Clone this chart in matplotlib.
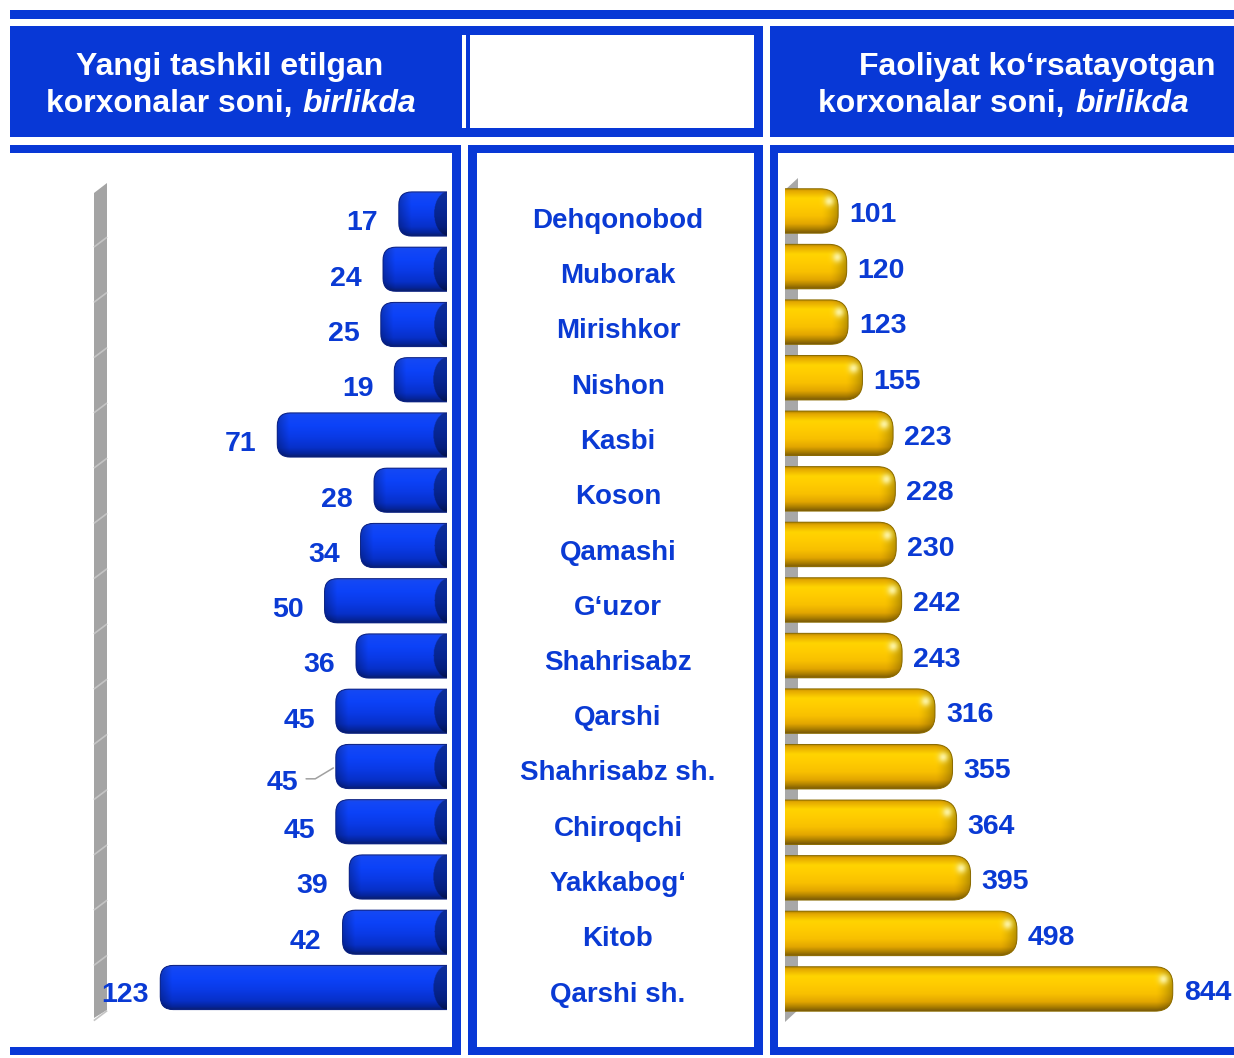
import numpy as np
import matplotlib
matplotlib.use('Agg')
import matplotlib.pyplot as plt
from matplotlib.patches import FancyBboxPatch, Polygon, Rectangle
from matplotlib.colors import to_rgb

plt.rcParams['font.family'] = ['Liberation Sans', 'DejaVu Sans']
plt.rcParams['font.weight'] = 'bold'

# districts of Qashqadaryo region, top to bottom
districts = ['Dehqonobod', 'Muborak', 'Mirishkor', 'Nishon', 'Kasbi', 'Koson',
             'Qamashi', 'G\u2018uzor', 'Shahrisabz', 'Qarshi', 'Shahrisabz sh.',
             'Chiroqchi', 'Yakkabog\u2018', 'Kitob', 'Qarshi sh.']
new_firms = [17, 24, 25, 19, 71, 28, 34, 50, 36, 45, 45, 45, 39, 42, 123]
active_firms = [101, 120, 123, 155, 223, 228, 230, 242, 243, 316, 355, 364, 395, 498, 844]

left_title = ['Yangi tashkil etilgan', 'korxonalar soni,', 'birlikda']
right_title = ['Faoliyat ko\u2018rsatayotgan', 'korxonalar soni,', 'birlikda']

W, H = 1234, 1058
BLUE = '#0838d6'
LABEL = '#0a3ad4'
PT = 0.72  # points per pixel at 100 dpi

BLUE_STOPS = [(0.0, '#2a4ad0'), (0.06, '#1448f5'), (0.30, '#0c42f8'), (0.55, '#0a3ae6'),
              (0.80, '#0730c8'), (0.93, '#05249a'), (1.0, '#0a1f6e')]
GOLD_STOPS = [(0.0, '#b08400'), (0.06, '#e4a800'), (0.22, '#ffd400'), (0.40, '#ffcc00'),
              (0.62, '#f8c000'), (0.80, '#e2a600'), (0.92, '#a87c00'), (1.0, '#7a5a08')]

fig = plt.figure(figsize=(W / 100, H / 100), dpi=100)


def px_rect(x0, y0, x1, y1):
    return [x0 / W, 1 - y1 / H, (x1 - x0) / W, (y1 - y0) / H]


# background axes in pixel units for frames, walls and headings
bg = fig.add_axes([0, 0, 1, 1])
bg.set_xlim(0, W)
bg.set_ylim(H, 0)
bg.axis('off')


def box(x0, y0, x1, y1, color=BLUE):
    bg.add_patch(Rectangle((x0, y0), x1 - x0, y1 - y0, facecolor=color, edgecolor='none'))


box(10, 10, 1234, 19)
box(10, 26, 763, 137)
box(470, 35, 754, 128, 'white')
box(462, 35, 466, 128, 'white')
box(770, 26, 1234, 137)
box(10, 145, 461, 153)
box(452, 145, 461, 1055)
box(10, 1047, 461, 1055)
box(468, 145, 763, 1055)
box(477, 153, 754, 1047, 'white')
box(770, 145, 1234, 153)
box(770, 145, 778, 1055)
box(770, 1047, 1234, 1055)

hdr = dict(color='white', fontsize=23, va='baseline', fontweight='bold')
bg.text(230, 75, left_title[0], ha='center', **hdr)
bg.text(293, 112, left_title[1], ha='right', **hdr)
bg.text(302, 112, left_title[2], ha='left', style='italic', **hdr)
bg.text(1037, 75, right_title[0], ha='center', **hdr)
bg.text(1065, 112, right_title[1], ha='right', **hdr)
bg.text(1075, 112, right_title[2], ha='left', style='italic', **hdr)

# grey side walls of the two bar charts
LROW0, LSTEP = 214, 55.25
RROW0, RSTEP = 211, 55.57
bg.add_patch(Polygon([(94, 193), (107, 183), (107, 1010), (94, 1018)],
                     facecolor='#a4a4a4', edgecolor='none'))
for k in range(15):
    yb = LROW0 + (k + 0.5) * LSTEP
    bg.plot([94.5, 106.5], [yb + 5, yb - 4], color='#c4c4c4', lw=1.2)
bg.add_patch(Polygon([(785, 190), (798, 178), (798, 1010), (785, 1022)],
                     facecolor='#a8a8a8', edgecolor='none'))

n = len(districts)


def row_axes(x0, x1, row0, step):
    return fig.add_axes(px_rect(x0, row0 - 0.5 * step, x1, row0 + (n - 0.5) * step))


def profile(stops, w_px, h_px=44, scale=2):
    h = h_px * scale
    w = max(int(w_px * scale), 2)
    t = np.linspace(0, 1, h)
    pos = [s[0] for s in stops]
    cols = np.array([to_rgb(s[1]) for s in stops])
    prof = np.stack([np.interp(t, pos, cols[:, k]) for k in range(3)], axis=1)
    img = np.repeat(prof[:, None, :], w, axis=1)
    xs = np.arange(w) / scale
    yy = (t - 0.5) * 2
    return img, xs, yy


def rounded(ax, x0, x1, yc, h, r, aspect, **kw):
    return FancyBboxPatch((x0, yc - h / 2), x1 - x0, h,
                          boxstyle=f'round,pad=0,rounding_size={r}',
                          mutation_aspect=aspect, transform=ax.transData, **kw)


BAR_H = 0.8

# left chart: newly founded firms, bars grow to the left
axl = row_axes(99.5, 447, LROW0, LSTEP)
l_depth = 4.44
l_lim = (150, -l_depth)
l_sx = 347.5 / (l_lim[0] - l_lim[1])
l_aspect = l_sx / LSTEP
l_r = 13 / l_sx
bars = axl.barh(range(n), [v + l_depth for v in new_firms], left=-l_depth,
                height=BAR_H, color='#0a3ae6')
for i, (rect, v) in enumerate(zip(bars, new_firms)):
    clip = rounded(axl, -l_depth - 2 * l_r, v, i, BAR_H, l_r, l_aspect)
    rect.set_clip_path(clip)
    w_px = (v + l_depth) * l_sx
    img, xs, yy = profile(BLUE_STOPS, w_px)
    img *= (1 - 0.25 * np.clip(1 - xs / 12, 0, 1))[None, :, None]
    d_base = w_px - xs
    face = d_base[None, :] < 14 * np.sqrt(np.clip(1 - yy[:, None] ** 2, 0, 1))
    img[face] *= 0.62
    im = axl.imshow(img, extent=(v, -l_depth, i + BAR_H / 2, i - BAR_H / 2),
                    aspect='auto', origin='upper', interpolation='bilinear', zorder=2)
    im.set_clip_path(clip)
    axl.add_patch(rounded(axl, -l_depth - 2 * l_r, v, i, BAR_H, l_r, l_aspect,
                          fill=False, edgecolor='#0a2080', lw=0.7, zorder=3))

for i, v in enumerate(new_firms):
    dx, dy = -21, 16.3
    arrow = None
    if i == 10:
        dx, dy = -38, 24
        arrow = dict(arrowstyle='-', color='#a0a0a0', lw=1.1, shrinkA=4, shrinkB=2,
                     relpos=(0.9, 0.68), connectionstyle='angle,angleA=0,angleB=31,rad=0')
    if i == n - 1:
        dx, dy = -12, 14.5
    axl.annotate(str(v), xy=(v, i), xytext=(dx * PT, -dy * PT), textcoords='offset points',
                 ha='right', va='baseline', fontsize=20.5, fontweight='bold', color=LABEL,
                 arrowprops=arrow, zorder=5)
axl.set_xlim(*l_lim)
axl.set_ylim(n - 0.5, -0.5)
axl.axis('off')

# right chart: operating firms
axr = row_axes(785, 1234, RROW0, RSTEP)
r_depth = 17
r_lim = (-r_depth, 980)
r_sx = 449 / (r_lim[1] - r_lim[0])
r_aspect = r_sx / RSTEP
r_r = 18 / r_sx
hl = np.array(to_rgb('#fff8b0'))
bars = axr.barh(range(n), [v + r_depth for v in active_firms], left=-r_depth,
                height=BAR_H, color='#fcc400')
for i, (rect, v) in enumerate(zip(bars, active_firms)):
    clip = rounded(axr, -r_depth - 2 * r_r, v, i, BAR_H, r_r, r_aspect)
    rect.set_clip_path(clip)
    w_px = (v + r_depth) * r_sx
    img, xs, yy = profile(GOLD_STOPS, w_px)
    d_end = w_px - xs
    img *= (1 - 0.3 * np.clip(1 - d_end / 18, 0, 1) ** 1.5)[None, :, None]
    g = np.exp(-((d_end[None, :] - 10) ** 2 + ((yy[:, None] + 0.42) * 22) ** 2) / (2 * 3.5 ** 2))
    img = img * (1 - 0.9 * g[..., None]) + hl * 0.9 * g[..., None]
    im = axr.imshow(img, extent=(-r_depth, v, i + BAR_H / 2, i - BAR_H / 2),
                    aspect='auto', origin='upper', interpolation='bilinear', zorder=2)
    im.set_clip_path(clip)
    axr.add_patch(rounded(axr, -r_depth - 2 * r_r, v, i, BAR_H, r_r, r_aspect,
                          fill=False, edgecolor='#8a6a00', lw=0.7, zorder=3))
    axr.annotate(str(v), xy=(v, i), xytext=(11 * PT, -11.3 * PT), textcoords='offset points',
                 ha='left', va='baseline', fontsize=20.5, fontweight='bold', color=LABEL,
                 zorder=5)
axr.set_xlim(*r_lim)
axr.set_ylim(n - 0.5, -0.5)
axr.axis('off')

# district names between the charts
axm = row_axes(477, 754, LROW0, LSTEP)
for i, name in enumerate(districts):
    axm.annotate(name, xy=(0.5, i), xytext=(2.5 * PT, -14 * PT), textcoords='offset points',
                 ha='center', va='baseline', fontsize=20, fontweight='bold', color=LABEL)
axm.set_xlim(0, 1)
axm.set_ylim(n - 0.5, -0.5)
axm.axis('off')

fig.savefig('out.png', dpi=100)
